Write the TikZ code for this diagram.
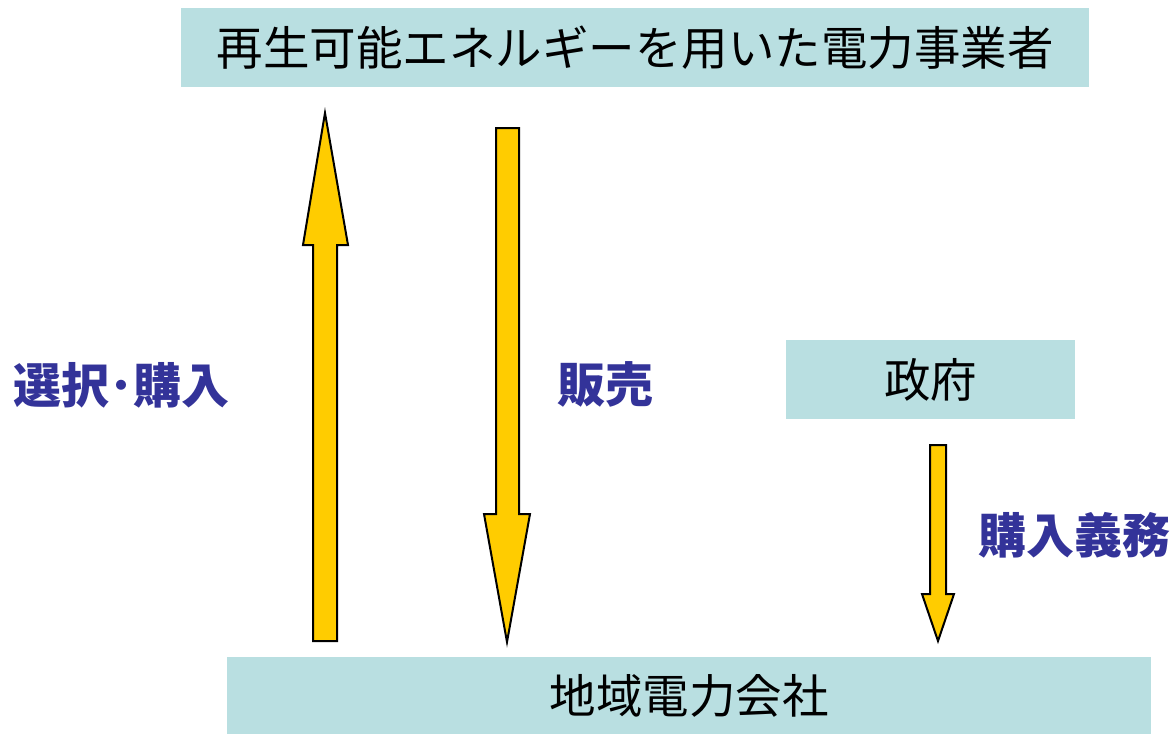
\documentclass[tikz,border=0pt]{standalone}
\usepackage{fontspec}
\newfontfamily\jp{Noto Sans CJK JP}
\begin{document}
\begin{tikzpicture}[x=1pt,y=-1pt,
  box/.style={fill=boxblue,draw=none,inner sep=0pt,font=\jp\fontsize{46.5}{50}\selectfont},
  lbl/.style={text=lblblue,inner sep=0pt,font=\jp\bfseries\fontsize{48}{52}\selectfont},
  arr/.style={fill=arrowyellow,draw=black,line width=2pt,line join=miter}]
\definecolor{boxblue}{HTML}{B9DFE1}
\definecolor{lblblue}{HTML}{333399}
\definecolor{arrowyellow}{HTML}{FFCC00}
\useasboundingbox (0,0) rectangle (1173,734);
\fill[white] (0,0) rectangle (1173,734);
\node[box,minimum width=908pt,minimum height=79pt] (top) at (635,47.5) {再生可能エネルギーを用いた電力事業者};
\node[box,minimum width=924pt,minimum height=77pt] (bottom) at (689,695.5) {地域電力会社};
\node[box,minimum width=289pt,minimum height=79pt] (gov) at (930.5,379.5) {政府};
\node[lbl] (l1) at (121.5,385) {選択･購入};
\node[lbl] (l2) at (605,384) {販売};
\node[lbl] (l3) at (1074,535) {購入義務};
% up arrow
\draw[arr] (313,641) -- (313,245) -- (303,245) -- (325,113) -- (348,245) -- (337,245) -- (337,641) -- cycle;
% down arrow
\draw[arr] (496,128) -- (519,128) -- (519,514) -- (530,514) -- (507,642) -- (484,514) -- (496,514) -- cycle;
% obligation arrow
\draw[arr] (930,445) -- (946,445) -- (946,594) -- (954,594) -- (938,641) -- (922,594) -- (930,594) -- cycle;
\end{tikzpicture}
\end{document}
